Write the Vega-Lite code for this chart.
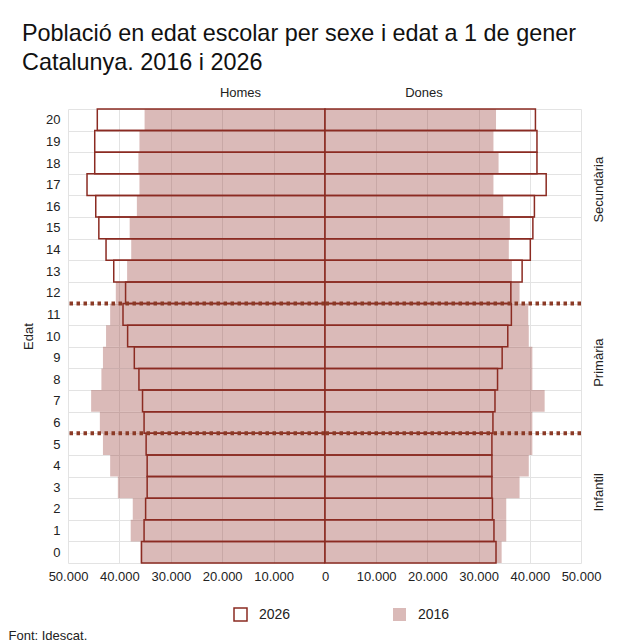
{
  "$schema": "https://vega.github.io/schema/vega-lite/v6.json",
  "padding": {"left": 8, "top": 21, "right": 5, "bottom": 3},
  "background": "white",
  "title": {
    "text": ["Població en edat escolar per sexe i edat a 1 de gener", "Catalunya. 2016 i 2026"],
    "anchor": "start",
    "frame": "bounds",
    "dx": 14,
    "font": "Liberation Sans",
    "fontSize": 23.4,
    "fontWeight": "normal",
    "color": "#111111",
    "lineHeight": 29,
    "offset": 12
  },
  "config": {
    "locale": {"number": {"decimal": ",", "thousands": ".", "grouping": [3], "currency": ["", " €"]}},
    "font": "Liberation Sans",
    "view": {"stroke": null},
    "axis": {"gridColor": "#e3e3e3", "gridWidth": 1, "labelColor": "#222222", "titleColor": "#222222", "labelFont": "Liberation Sans", "titleFont": "Liberation Sans"},
    "title": {"font": "Liberation Sans"}
  },
  "datasets": {
    "pop": [
      {"edat": 20, "sexe": "Homes", "any": "2016", "poblacio": 35100},
      {"edat": 19, "sexe": "Homes", "any": "2016", "poblacio": 36100},
      {"edat": 18, "sexe": "Homes", "any": "2016", "poblacio": 36300},
      {"edat": 17, "sexe": "Homes", "any": "2016", "poblacio": 36100},
      {"edat": 16, "sexe": "Homes", "any": "2016", "poblacio": 36600},
      {"edat": 15, "sexe": "Homes", "any": "2016", "poblacio": 38000},
      {"edat": 14, "sexe": "Homes", "any": "2016", "poblacio": 37700},
      {"edat": 13, "sexe": "Homes", "any": "2016", "poblacio": 38500},
      {"edat": 12, "sexe": "Homes", "any": "2016", "poblacio": 40700},
      {"edat": 11, "sexe": "Homes", "any": "2016", "poblacio": 41800},
      {"edat": 10, "sexe": "Homes", "any": "2016", "poblacio": 42600},
      {"edat": 9, "sexe": "Homes", "any": "2016", "poblacio": 43200},
      {"edat": 8, "sexe": "Homes", "any": "2016", "poblacio": 43500},
      {"edat": 7, "sexe": "Homes", "any": "2016", "poblacio": 45500},
      {"edat": 6, "sexe": "Homes", "any": "2016", "poblacio": 43800},
      {"edat": 5, "sexe": "Homes", "any": "2016", "poblacio": 43200},
      {"edat": 4, "sexe": "Homes", "any": "2016", "poblacio": 41800},
      {"edat": 3, "sexe": "Homes", "any": "2016", "poblacio": 40300},
      {"edat": 2, "sexe": "Homes", "any": "2016", "poblacio": 37400},
      {"edat": 1, "sexe": "Homes", "any": "2016", "poblacio": 37800},
      {"edat": 0, "sexe": "Homes", "any": "2016", "poblacio": 35900},
      {"edat": 20, "sexe": "Dones", "any": "2016", "poblacio": 33400},
      {"edat": 19, "sexe": "Dones", "any": "2016", "poblacio": 32900},
      {"edat": 18, "sexe": "Dones", "any": "2016", "poblacio": 33900},
      {"edat": 17, "sexe": "Dones", "any": "2016", "poblacio": 32900},
      {"edat": 16, "sexe": "Dones", "any": "2016", "poblacio": 34800},
      {"edat": 15, "sexe": "Dones", "any": "2016", "poblacio": 36100},
      {"edat": 14, "sexe": "Dones", "any": "2016", "poblacio": 35900},
      {"edat": 13, "sexe": "Dones", "any": "2016", "poblacio": 36500},
      {"edat": 12, "sexe": "Dones", "any": "2016", "poblacio": 38000},
      {"edat": 11, "sexe": "Dones", "any": "2016", "poblacio": 39700},
      {"edat": 10, "sexe": "Dones", "any": "2016", "poblacio": 39800},
      {"edat": 9, "sexe": "Dones", "any": "2016", "poblacio": 40500},
      {"edat": 8, "sexe": "Dones", "any": "2016", "poblacio": 40500},
      {"edat": 7, "sexe": "Dones", "any": "2016", "poblacio": 42900},
      {"edat": 6, "sexe": "Dones", "any": "2016", "poblacio": 40500},
      {"edat": 5, "sexe": "Dones", "any": "2016", "poblacio": 40500},
      {"edat": 4, "sexe": "Dones", "any": "2016", "poblacio": 39800},
      {"edat": 3, "sexe": "Dones", "any": "2016", "poblacio": 38000},
      {"edat": 2, "sexe": "Dones", "any": "2016", "poblacio": 35400},
      {"edat": 1, "sexe": "Dones", "any": "2016", "poblacio": 35400},
      {"edat": 0, "sexe": "Dones", "any": "2016", "poblacio": 34500},
      {"edat": 20, "sexe": "Homes", "any": "2026", "poblacio": 44300},
      {"edat": 19, "sexe": "Homes", "any": "2026", "poblacio": 44800},
      {"edat": 18, "sexe": "Homes", "any": "2026", "poblacio": 44800},
      {"edat": 17, "sexe": "Homes", "any": "2026", "poblacio": 46300},
      {"edat": 16, "sexe": "Homes", "any": "2026", "poblacio": 44600},
      {"edat": 15, "sexe": "Homes", "any": "2026", "poblacio": 44000},
      {"edat": 14, "sexe": "Homes", "any": "2026", "poblacio": 42600},
      {"edat": 13, "sexe": "Homes", "any": "2026", "poblacio": 41100},
      {"edat": 12, "sexe": "Homes", "any": "2026", "poblacio": 38800},
      {"edat": 11, "sexe": "Homes", "any": "2026", "poblacio": 39300},
      {"edat": 10, "sexe": "Homes", "any": "2026", "poblacio": 38400},
      {"edat": 9, "sexe": "Homes", "any": "2026", "poblacio": 37100},
      {"edat": 8, "sexe": "Homes", "any": "2026", "poblacio": 36200},
      {"edat": 7, "sexe": "Homes", "any": "2026", "poblacio": 35500},
      {"edat": 6, "sexe": "Homes", "any": "2026", "poblacio": 35200},
      {"edat": 5, "sexe": "Homes", "any": "2026", "poblacio": 34800},
      {"edat": 4, "sexe": "Homes", "any": "2026", "poblacio": 34600},
      {"edat": 3, "sexe": "Homes", "any": "2026", "poblacio": 34600},
      {"edat": 2, "sexe": "Homes", "any": "2026", "poblacio": 34900},
      {"edat": 1, "sexe": "Homes", "any": "2026", "poblacio": 35200},
      {"edat": 0, "sexe": "Homes", "any": "2026", "poblacio": 35700},
      {"edat": 20, "sexe": "Dones", "any": "2026", "poblacio": 41100},
      {"edat": 19, "sexe": "Dones", "any": "2026", "poblacio": 41400},
      {"edat": 18, "sexe": "Dones", "any": "2026", "poblacio": 41400},
      {"edat": 17, "sexe": "Dones", "any": "2026", "poblacio": 43200},
      {"edat": 16, "sexe": "Dones", "any": "2026", "poblacio": 40900},
      {"edat": 15, "sexe": "Dones", "any": "2026", "poblacio": 40600},
      {"edat": 14, "sexe": "Dones", "any": "2026", "poblacio": 40100},
      {"edat": 13, "sexe": "Dones", "any": "2026", "poblacio": 38500},
      {"edat": 12, "sexe": "Dones", "any": "2026", "poblacio": 36300},
      {"edat": 11, "sexe": "Dones", "any": "2026", "poblacio": 36400},
      {"edat": 10, "sexe": "Dones", "any": "2026", "poblacio": 35700},
      {"edat": 9, "sexe": "Dones", "any": "2026", "poblacio": 34600},
      {"edat": 8, "sexe": "Dones", "any": "2026", "poblacio": 33700},
      {"edat": 7, "sexe": "Dones", "any": "2026", "poblacio": 33200},
      {"edat": 6, "sexe": "Dones", "any": "2026", "poblacio": 32800},
      {"edat": 5, "sexe": "Dones", "any": "2026", "poblacio": 32600},
      {"edat": 4, "sexe": "Dones", "any": "2026", "poblacio": 32600},
      {"edat": 3, "sexe": "Dones", "any": "2026", "poblacio": 32600},
      {"edat": 2, "sexe": "Dones", "any": "2026", "poblacio": 32700},
      {"edat": 1, "sexe": "Dones", "any": "2026", "poblacio": 33000},
      {"edat": 0, "sexe": "Dones", "any": "2026", "poblacio": 33400}
    ],
    "etapes": [
      {"etapa": "Secundària", "edat": 17},
      {"etapa": "Primària", "edat": 9},
      {"etapa": "Infantil", "edat": 3}
    ],
    "divisions": [
      {"edat": 11},
      {"edat": 5}
    ]
  },
  "spacing": 0,
  "bounds": "flush",
  "resolve": {"scale": {"y": "shared", "fill": "shared", "stroke": "shared"}, "legend": {"fill": "shared", "stroke": "shared"}},
  "hconcat": [
    {
      "width": 257,
      "height": 454,
      "title": {"text": "Homes", "fontSize": 13, "fontWeight": "normal", "color": "#222222", "dx": 44, "offset": 3, "frame": "group"},
      "layer": [
        {
          "data": {"name": "pop"},
          "transform": [{"filter": "datum.sexe == 'Homes'"}],
          "mark": {"type": "bar", "strokeWidth": 1.5},
          "encoding": {
            "y": {
              "field": "edat", "type": "ordinal", "sort": "descending",
              "scale": {"paddingInner": 0, "paddingOuter": 0},
              "axis": {"title": "Edat", "titleFontSize": 13, "titleFontWeight": "normal", "titlePadding": 10, "labelFontSize": 13, "labelPadding": 8, "ticks": false, "tickSize": 0, "domain": false, "grid": true, "tickBand": "extent", "labelAngle": 0}
            },
            "x": {
              "field": "poblacio", "type": "quantitative", "stack": null,
              "scale": {"domain": [0, 50000], "reverse": true, "nice": false},
              "axis": {"values": [10000, 20000, 30000, 40000, 50000], "format": ",d", "grid": true, "ticks": false, "tickSize": 0, "domain": false, "labelFontSize": 13, "labelPadding": 7, "labelOverlap": false, "labelFlush": false, "title": "Font: Idescat.", "titleFontSize": 13, "titleFontWeight": "normal", "titleAlign": "left", "titleAnchor": "start", "titleX": -60, "titleY": 72, "titleBaseline": "middle"}
            },
            "fill": {
              "field": "any", "type": "nominal",
              "scale": {"domain": ["2026", "2016"], "range": ["transparent", "rgba(158,74,68,0.38)"]},
              "legend": {"orient": "none", "legendX": 165, "legendY": 498, "direction": "horizontal", "title": null, "symbolType": "square", "symbolSize": 169, "symbolStrokeWidth": 1.5, "labelFontSize": 14, "labelOffset": 11, "columnPadding": 99, "labelColor": "#222222"}
            },
            "stroke": {
              "field": "any", "type": "nominal",
              "scale": {"domain": ["2026", "2016"], "range": ["#8b2b22", "transparent"]},
              "legend": {"orient": "none", "legendX": 165, "legendY": 498, "direction": "horizontal", "title": null, "symbolType": "square", "symbolSize": 169, "symbolStrokeWidth": 1.5, "labelFontSize": 14, "labelOffset": 11, "columnPadding": 99, "labelColor": "#222222"}
            }
          }
        },
        {
          "data": {"name": "divisions"},
          "mark": {"type": "rule", "strokeDash": [3.5, 3.5], "strokeWidth": 4, "color": "#8b3a26"},
          "encoding": {"y": {"field": "edat", "type": "ordinal", "sort": "descending", "bandPosition": 0}}
        }
      ]
    },
    {
      "width": 256,
      "height": 454,
      "title": {"text": "Dones", "fontSize": 13, "fontWeight": "normal", "color": "#222222", "dx": -29, "dy": -5, "offset": 3, "frame": "group"},
      "layer": [
        {
          "data": {"name": "pop"},
          "transform": [{"filter": "datum.sexe == 'Dones'"}],
          "mark": {"type": "bar", "strokeWidth": 1.5},
          "encoding": {
            "y": {
              "field": "edat", "type": "ordinal", "sort": "descending",
              "scale": {"paddingInner": 0, "paddingOuter": 0},
              "axis": {"title": null, "labels": false, "ticks": false, "tickSize": 0, "domain": false, "grid": true, "tickBand": "extent"}
            },
            "x": {
              "field": "poblacio", "type": "quantitative", "stack": null,
              "scale": {"domain": [0, 50000], "nice": false},
              "axis": {"values": [0, 10000, 20000, 30000, 40000, 50000], "format": ",d", "grid": true, "ticks": false, "tickSize": 0, "domain": false, "labelFontSize": 13, "labelPadding": 7, "labelOverlap": false, "labelFlush": false, "title": null}
            },
            "fill": {"field": "any", "type": "nominal"},
            "stroke": {"field": "any", "type": "nominal"}
          }
        },
        {
          "data": {"name": "divisions"},
          "mark": {"type": "rule", "strokeDash": [3.5, 3.5], "strokeWidth": 4, "color": "#8b3a26"},
          "encoding": {"y": {"field": "edat", "type": "ordinal", "sort": "descending", "bandPosition": 0}}
        },
        {
          "mark": {"type": "rule", "color": "#8b2b22", "strokeWidth": 1.5},
          "encoding": {"x": {"datum": 0}}
        },
        {
          "data": {"name": "etapes"},
          "mark": {"type": "text", "angle": 270, "align": "center", "baseline": "middle", "fontSize": 13, "dx": -5, "dy": 18, "color": "#222222"},
          "encoding": {
            "y": {"field": "edat", "type": "ordinal", "sort": "descending"},
            "x": {"datum": 50000},
            "text": {"field": "etapa"}
          }
        }
      ]
    }
  ]
}
